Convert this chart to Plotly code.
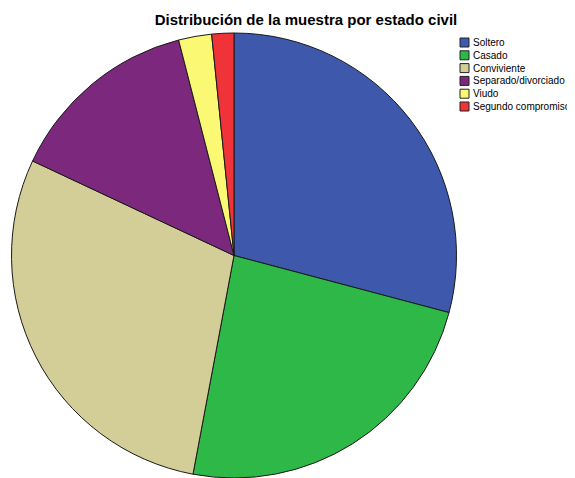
import plotly.graph_objects as go

categories = ["Soltero", "Casado", "Conviviente", "Separado/divorciado", "Viudo", "Segundo compromiso"]
percent = [29.1, 23.8, 29.0, 14.0, 2.4, 1.6]
colors = ["#3E58AC", "#2EB848", "#D3CE97", "#7C287D", "#FBF873", "#EF3338"]
title_text = "Distribución de la muestra por estado civil"

# the page adds an 8px body margin, so the figure is sized to fill the rest
W, H = 567, 470
FONT = "Liberation Sans, Arial, sans-serif"

pie_top = 25
pie_cx = 226
pie_r = (H - pie_top) / 2

fig = go.Figure()
fig.add_trace(go.Pie(
    labels=categories,
    values=percent,
    marker=dict(colors=colors, line=dict(color="#1a1a1a", width=1)),
    sort=False,
    direction="clockwise",
    rotation=0,
    textinfo="none",
    hovertemplate="%{label}: %{value}%<extra></extra>",
    domain=dict(x=[max(0, pie_cx - pie_r - 2) / W, (pie_cx + pie_r + 2) / W],
                y=[0, 1 - pie_top / H]),
    showlegend=False,
))

# compact legend built from the category/colour lists
shapes = []
annotations = []
row0, step = 34.5, 12.8
for i, (cat, col) in enumerate(zip(categories, colors)):
    yc = row0 + i * step
    shapes.append(dict(
        type="rect", xref="paper", yref="paper",
        x0=452 / W, x1=461 / W,
        y0=1 - (yc + 4.5) / H, y1=1 - (yc - 4.5) / H,
        fillcolor=col, line=dict(color="#222222", width=1),
    ))
    annotations.append(dict(
        text=cat, xref="paper", yref="paper",
        x=463 / W, y=1 - yc / H, xanchor="left", yanchor="middle",
        showarrow=False, font=dict(family=FONT, size=10, color="#000000"),
    ))

fig.update_layout(
    width=W, height=H,
    margin=dict(l=0, r=0, t=0, b=0),
    paper_bgcolor="white",
    plot_bgcolor="white",
    title=dict(
        text="<b>" + title_text + "</b>",
        x=298 / W, xanchor="center",
        y=1 - 12 / H, yanchor="middle", yref="container",
        font=dict(family=FONT, size=15, color="#000000"),
    ),
    shapes=shapes,
    annotations=annotations,
)

fig.write_html("out.html")
